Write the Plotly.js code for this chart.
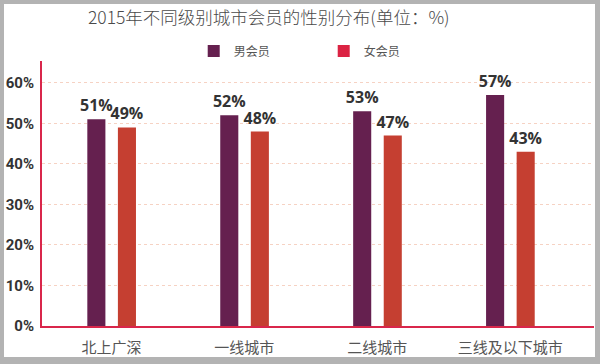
<!DOCTYPE html>
<html>
<head>
<meta charset="utf-8">
<script src="https://cdn.plot.ly/plotly-3.0.1.min.js"></script>
<style>
html,body{margin:0;padding:0;background:#b3b3b3;width:600px;height:364px;overflow:hidden;}
#chart{position:absolute;left:4px;top:4px;width:591px;height:353px;background:#fff;}
</style>
</head>
<body>
<div id="chart"></div>
<script>
const categories = ['北上广深', '一线城市', '二线城市', '三线及以下城市'];
const maleValues = [51, 52, 53, 57];
const femaleValues = [49, 48, 47, 43];
const seriesNames = ['男会员', '女会员'];
const yTickVals = [0, 10, 20, 30, 40, 50, 60];
const yTickText = ['0%', '10%', '20%', '30%', '40%', '50%', '60%'];

const maleColor = '#65204f';
const femaleColor = '#c53f31';
const femaleLegendColor = '#db2343';
const labelFont = {family: 'Open Sans, DejaVu Sans, sans-serif', size: 16, color: '#333333', weight: 700};

const barW = 0.136;
const traces = [
  {
    type: 'bar', x: categories, y: maleValues, name: seriesNames[0], showlegend: false,
    width: barW, offset: -0.181,
    marker: {color: maleColor},
    texttemplate: '%{y}%', textposition: 'outside', textfont: labelFont,
    constraintext: 'none', cliponaxis: false, hoverinfo: 'skip'
  },
  {
    type: 'bar', x: categories, y: femaleValues, name: seriesNames[1], showlegend: false,
    width: barW, offset: 0.049,
    marker: {color: femaleColor},
    texttemplate: '%{y}%', textposition: 'outside', textfont: labelFont,
    constraintext: 'none', cliponaxis: false, hoverinfo: 'skip'
  },
  {
    type: 'bar', x: categories, y: categories.map(() => null), name: seriesNames[0],
    marker: {color: maleColor}, showlegend: true, hoverinfo: 'skip'
  },
  {
    type: 'bar', x: categories, y: categories.map(() => null), name: seriesNames[1],
    marker: {color: femaleLegendColor}, showlegend: true, hoverinfo: 'skip'
  }
];

const layout = {
  width: 591, height: 353,
  paper_bgcolor: '#ffffff', plot_bgcolor: '#ffffff',
  margin: {l: 38, r: 1, t: 57, b: 31, autoexpand: false},
  barmode: 'overlay',
  font: {family: 'Noto Sans CJK SC, Noto Sans, sans-serif', color: '#444'},
  title: {
    text: '2015年不同级别城市会员的性别分布(单位：%)',
    font: {family: 'Noto Sans CJK SC, sans-serif', size: 17.5, color: '#4a4a4a', weight: 300},
    xref: 'container', x: 0.448, xanchor: 'center',
    yref: 'container', y: 0.962, yanchor: 'middle'
  },
  showlegend: true,
  legend: {
    orientation: 'h', xref: 'container', yref: 'container',
    x: 0.321, xanchor: 'left', y: 0.867, yanchor: 'middle',
    font: {family: 'Noto Sans CJK SC, sans-serif', size: 12, color: '#555'},
    traceorder: 'normal', itemclick: false, entrywidth: 85
  },
  xaxis: {
    type: 'category', range: [-0.522, 3.631],
    showline: true, linecolor: '#d9264b', linewidth: 2,
    showgrid: false, zeroline: false, ticks: '',
    tickfont: {family: 'Noto Sans CJK SC, sans-serif', size: 15, color: '#555'},
    ticklabelstandoff: 7, fixedrange: true
  },
  yaxis: {
    range: [0, 65.4],
    tickvals: yTickVals, ticktext: yTickText,
    showline: true, linecolor: '#d9264b', linewidth: 2,
    showgrid: true, gridcolor: '#f6d2c3', griddash: 'dot', gridwidth: 1,
    zeroline: false, ticks: '',
    tickfont: {family: 'Roboto, DejaVu Sans, sans-serif', size: 15, color: '#333', weight: 700},
    ticklabelstandoff: 3, fixedrange: true
  }
};

Plotly.newPlot('chart', traces, layout, {displayModeBar: false, staticPlot: true});
</script>
</body>
</html>
